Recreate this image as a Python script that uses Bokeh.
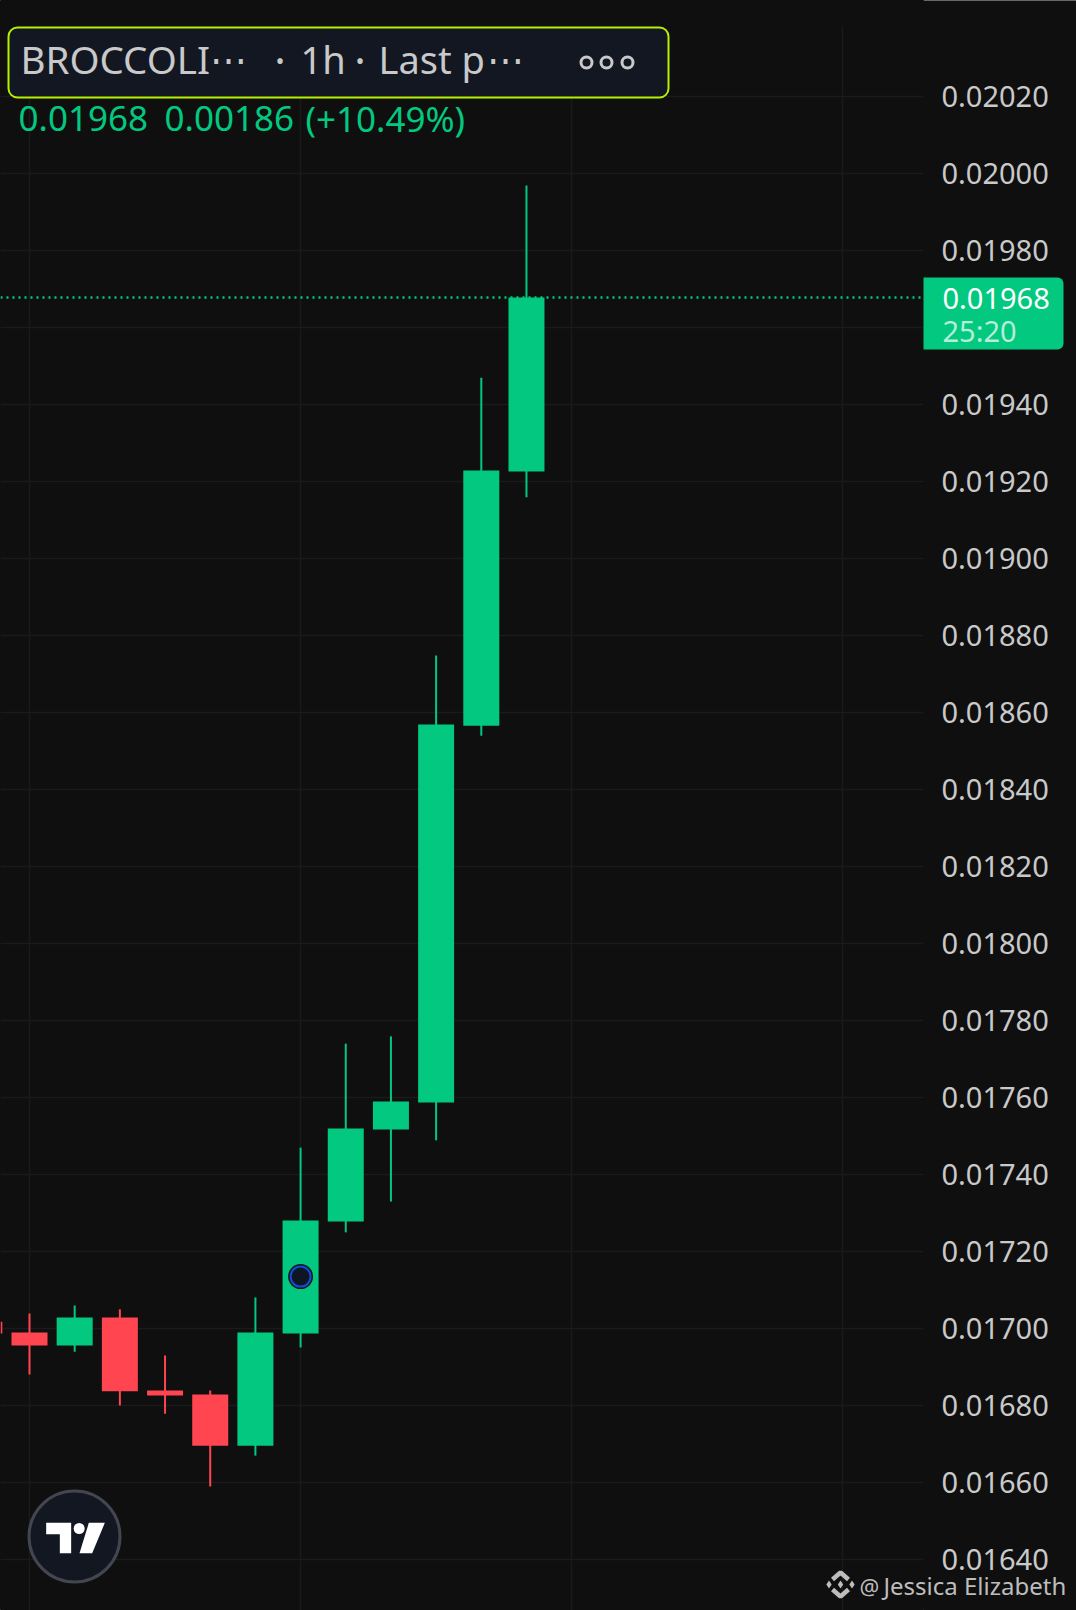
from bokeh.plotting import figure
from bokeh.layouts import row
from bokeh.models import (ColumnDataSource, LinearAxis, FixedTicker, Range1d, Span, BoxAnnotation,
                          Label, PrintfTickFormatter)
from bokeh.embed import file_html
from bokeh.resources import INLINE

# ---- data ----
candle_index = [-1, 0, 1, 2, 3, 4, 5, 6, 7, 8, 9, 10, 11]
opens  = [0.017017, 0.016989, 0.016955, 0.017028, 0.016838, 0.016828, 0.016695, 0.016986, 0.017277, 0.017516, 0.017586, 0.018565, 0.019225]
closes = [0.016986, 0.016955, 0.017028, 0.016836, 0.016825, 0.016695, 0.016989, 0.017280, 0.017519, 0.017589, 0.018568, 0.019228, 0.019677]
highs  = [0.017030, 0.017038, 0.017059, 0.017049, 0.016929, 0.016838, 0.017080, 0.017469, 0.017739, 0.017758, 0.018747, 0.019469, 0.019968]
lows   = [0.016970, 0.016880, 0.016939, 0.016799, 0.016778, 0.016589, 0.016669, 0.016950, 0.017249, 0.017329, 0.017488, 0.018539, 0.019158]
price_ticks = [0.0164, 0.0166, 0.0168, 0.0170, 0.0172, 0.0174, 0.0176, 0.0178, 0.0180, 0.0182,
               0.0184, 0.0186, 0.0188, 0.0190, 0.0192, 0.0194, 0.0196, 0.0198, 0.0200, 0.0202]
time_grid = [0, 6, 12, 18]
marker_index = [6]
marker_price = [0.017134]
last_price = 0.019677

GREEN = "#02C97F"
RED = "#FF4550"
BG = "#0F0F0F"
PANEL = "#131722"
GRID = "#1A1A1A"
TEXT = "#C9C9C9"
FONT = "Noto Sans"
W, H = 1076, 1610
TOP = 26

STEP = 45.18
def X(px):
    return (px - 29.0) / STEP
def Y(py):
    return 0.0170 + (1327.7 - py) * 0.0002 / 77.0

# ---- main chart ----
p = figure(width=W, height=H, frame_width=923, frame_height=H,
           output_backend="svg", toolbar_location=None,
           x_range=Range1d(X(0), X(923)), y_range=Range1d(Y(H), Y(0)),
           background_fill_color=BG, border_fill_color=BG,
           min_border_left=0, min_border_right=153, min_border_top=0, min_border_bottom=0,
           x_axis_location=None, y_axis_location=None)
p.outline_line_color = BG
p.outline_line_width = 1

axis = LinearAxis(ticker=FixedTicker(ticks=price_ticks),
                  formatter=PrintfTickFormatter(format="%.5f"))
axis.major_label_overrides = {0.0196: ""}
axis.axis_line_color = None
axis.major_tick_line_color = None
axis.minor_tick_line_color = None
axis.major_tick_out = 0
axis.major_label_standoff = 18
axis.major_label_text_color = TEXT
axis.major_label_text_font = FONT
axis.major_label_text_font_size = "29px"
p.add_layout(axis, "right")

p.xgrid.ticker = FixedTicker(ticks=time_grid)
p.ygrid.ticker = FixedTicker(ticks=price_ticks)
for g in (p.xgrid, p.ygrid):
    g.grid_line_color = GRID
    g.grid_line_width = 1.6

colors = [GREEN if c >= o else RED for o, c in zip(opens, closes)]
src = ColumnDataSource(dict(x=candle_index, o=opens, c=closes, h=highs, l=lows, col=colors))
p.segment("x", "h", "x", "l", source=src, line_color="col", line_width=2)
p.vbar(x="x", width=36 / STEP, top="o", bottom="c", source=src, fill_color="col", line_color=None)

p.add_layout(Span(location=last_price, dimension="width", line_color=GREEN, line_width=2.5, line_dash="2 4"))

p.scatter(marker_index, marker_price, size=25, fill_color="#111111", line_color=None)
p.scatter(marker_index, marker_price, size=20, fill_color="#0F1623", line_color="#0B4FD8", line_width=2)

# ---- transparent overlay in page pixels for the chart's interface furniture ----
o = figure(width=W, height=H, frame_width=W, frame_height=H,
           output_backend="svg", toolbar_location=None,
           x_range=Range1d(0, W), y_range=Range1d(H, 0),
           background_fill_alpha=0, border_fill_alpha=0,
           min_border_left=0, min_border_right=0, min_border_top=0, min_border_bottom=0,
           x_axis_location=None, y_axis_location=None)
o.outline_line_color = None
o.xgrid.visible = False
o.ygrid.visible = False
o.margin = (0, 0, 0, -W)

def box(l, r, t, b, **kw):
    o.add_layout(BoxAnnotation(left=l, right=r, top=t, bottom=b, fill_alpha=1, line_alpha=1, **kw))
def label(text, px, py, color=TEXT, size="29px", **kw):
    o.add_layout(Label(x=px, y=py, text=text, text_color=color, text_font=FONT,
                       text_font_size=size, text_baseline="middle", **kw))

# the vertical grid only starts below the top strip
box(0, W, -4, TOP, fill_color=BG, line_color=None)

# price tag
box(923, 1063, 277, 349, fill_color=GREEN, line_color=None, border_radius=(0, 6, 6, 0))
label("0.01968", 942, 298, color="#FFFFFF")
label("25:20", 942, 330, color="#B5EDD8")

# header
box(8, 668, 27, 97, fill_color=PANEL, line_color="#B5F000", line_width=2, border_radius=9)
label("BROCCOLI", 20, 58, size="38.5px")
label("\u22ef", 209, 58, size="37px")
label("\u2022", 275, 60, size="24px")
label("1h", 300, 58, size="38px")
label("\u2022", 355, 60, size="24px")
label("Last p", 378, 58, size="38px")
label("\u22ef", 486, 58, size="37px")
o.scatter([586, 606, 627], [62, 62, 62], size=11, fill_color=None, line_color=TEXT, line_width=3, level="overlay")

label("0.01968", 18, 118, color=GREEN, size="35px")
label("0.00186", 164, 118, color=GREEN, size="35px")
label("(+10.49%)", 305, 118, color=GREEN, size="35px")

# TradingView badge
o.scatter([74], [1536], size=91, fill_color=PANEL, line_color="#43464F", line_width=3)
tv_t = [(137, 907), (212, 907), (212, 998), (178, 998), (178, 941), (137, 941)]
tv_s = [(265, 907), (313, 907), (275, 998), (237, 998)]
for poly in (tv_t, tv_s):
    o.patch([a / 3 for a, _ in poly], [1220 + b / 3 for _, b in poly], fill_color="#FFFFFF", line_color=None)
o.scatter([236 / 3], [1220 + 924 / 3], size=11, fill_color="#FFFFFF", line_color=None)

# watermark
WM = "#BDBDBD"
label("@", 859, 1585, color=WM, size="22px")
label("Jessica Elizabeth", 883, 1585, color=WM, size="24px")
ic_x, ic_y = 840.0, 1584.0
o.scatter([ic_x - 11.5, ic_x, ic_x + 11.5], [ic_y] * 3, marker="diamond", size=8, fill_color=WM, line_color=None)
o.multi_line([[ic_x - 8, ic_x, ic_x + 8], [ic_x - 8, ic_x, ic_x + 8]],
             [[ic_y - 5, ic_y - 12, ic_y - 5], [ic_y + 5, ic_y + 12, ic_y + 5]],
             line_color=WM, line_width=4.5)

layout = row(p, o)
open("out.html", "w").write(file_html(layout, INLINE))
